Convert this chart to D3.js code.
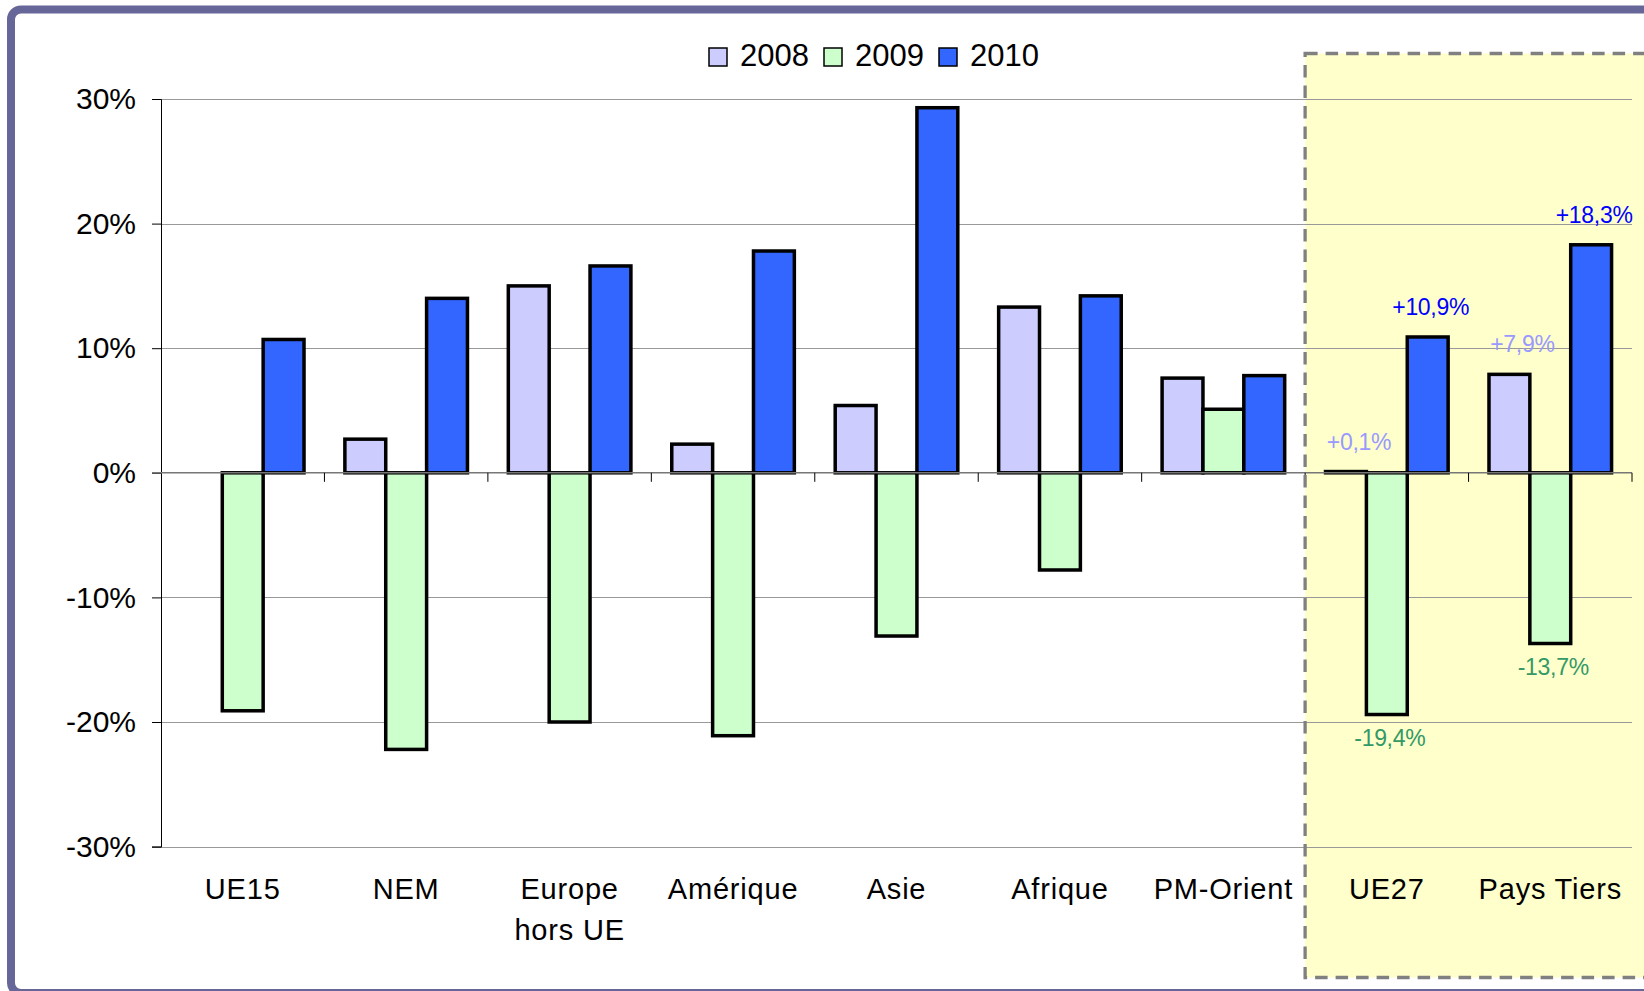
<!DOCTYPE html>
<html>
<head>
<meta charset="utf-8">
<script src="https://cdnjs.cloudflare.com/ajax/libs/d3/7.8.5/d3.min.js"></script>
<style>
  body { margin: 0; background: #fff; }
  svg { display: block; font-family: "Liberation Sans", Arial, sans-serif; }
</style>
</head>
<body>
<svg width="1644" height="991"></svg>
<script>
var categories = ["UE15", "NEM", "Europe|hors UE", "Amérique", "Asie", "Afrique", "PM-Orient", "UE27", "Pays Tiers"];
var series = ["2008", "2009", "2010"];

var values2008 = [null, 2.7, 15.0, 2.3, 5.4, 13.3, 7.6, 0.1, 7.9];
var values2009 = [-19.1, -22.2, -20.0, -21.1, -13.1, -7.8, 5.1, -19.4, -13.7];
var values2010 = [10.7, 14.0, 16.6, 17.8, 29.3, 14.2, 7.8, 10.9, 18.3];

var yTicks = [30, 20, 10, 0, -10, -20, -30];
var highlighted = ["UE27", "Pays Tiers"];

var fills = {"2008": "#ccccff", "2009": "#ccffcc", "2010": "#3366ff"};
var labelColors = {"2008": "#9999ff", "2009": "#339966", "2010": "#0000ff"};

var svg = d3.select("svg");

var x = d3.scaleBand()
    .domain(categories)
    .range([161, 1632]);

var bw = x.bandwidth();

var xs = d3.scaleBand()
    .domain(series)
    .range([bw / 8, bw * 7 / 8]);

var y = d3.scaleLinear()
    .domain([-30, 30])
    .range([846.6, 99]);

var table = [];
categories.forEach(function(c, i) {
  [values2008, values2009, values2010].forEach(function(vals, j) {
    if (vals[i] != null) table.push({cat: c, year: series[j], value: vals[i]});
  });
});

function fmt(v) {
  return (v > 0 ? "+" : "") + v.toFixed(1).replace(".", ",") + "%";
}

// outer frame
svg.append("rect")
    .attr("x", 11)
    .attr("y", 9.5)
    .attr("width", 1700)
    .attr("height", 983.5)
    .attr("rx", 10)
    .attr("fill", "#fff")
    .attr("stroke", "#666699")
    .attr("stroke-width", 8);

// highlighted zone
var zx = x(highlighted[0]);
svg.append("rect")
    .attr("x", zx)
    .attr("y", 53.5)
    .attr("width", 400)
    .attr("height", 924)
    .attr("fill", "#ffffcc");

// gridlines
svg.append("g")
    .attr("class", "grid")
    .selectAll("line")
  .data(yTicks.filter(function(d) { return d !== 0; }))
  .enter().append("line")
    .attr("x1", 161)
    .attr("x2", 1632)
    .attr("y1", function(d) { return Math.round(y(d)) + 0.5; })
    .attr("y2", function(d) { return Math.round(y(d)) + 0.5; })
    .attr("stroke", "#999")
    .attr("stroke-width", 1);

// y axis
var yAxis = svg.append("g")
    .attr("transform", "translate(161,0)")
    .call(d3.axisLeft(y)
      .tickValues(yTicks)
      .tickSize(9)
      .tickPadding(16)
      .tickFormat(function(d) { return d + "%"; }));

yAxis.select(".domain").attr("stroke", "#000");
yAxis.selectAll(".tick line").attr("stroke", "#000");
yAxis.selectAll("text")
    .attr("font-size", 30)
    .attr("font-family", "Liberation Sans, Arial, sans-serif")
    .attr("fill", "#000");

// bars
svg.append("g")
    .attr("class", "bars")
    .selectAll("rect")
  .data(table)
  .enter().append("rect")
    .attr("x", function(d) { return x(d.cat) + xs(d.year); })
    .attr("width", xs.bandwidth())
    .attr("y", function(d) { return y(Math.max(0, d.value)); })
    .attr("height", function(d) { return Math.abs(y(d.value) - y(0)); })
    .attr("fill", function(d) { return fills[d.year]; })
    .attr("stroke", "#000")
    .attr("stroke-width", 3.5);

// zero line and category ticks
svg.append("line")
    .attr("x1", 152)
    .attr("x2", 1632)
    .attr("y1", y(0))
    .attr("y2", y(0))
    .attr("stroke", "#777")
    .attr("stroke-width", 1.5);

svg.append("g")
    .selectAll("line")
  .data(categories)
  .enter().append("line")
    .attr("x1", function(d) { return x(d) + bw; })
    .attr("x2", function(d) { return x(d) + bw; })
    .attr("y1", y(0))
    .attr("y2", y(0) + 9)
    .attr("stroke", "#000")
    .attr("stroke-width", 1);

// category labels
var catLabels = svg.append("g")
    .selectAll("text")
  .data(categories)
  .enter().append("text")
    .attr("x", function(d) { return x(d) + bw / 2; })
    .attr("y", 899)
    .attr("text-anchor", "middle")
    .attr("font-size", 29)
    .attr("letter-spacing", 0.8)
    .attr("fill", "#000");

catLabels.selectAll("tspan")
  .data(function(d) { return d.split("|"); })
  .enter().append("tspan")
    .attr("x", function() { return d3.select(this.parentNode).attr("x"); })
    .attr("dy", function(d, i) { return i ? 41 : 0; })
    .text(function(d) { return d; });

// dashed border round the highlighted zone
svg.append("rect")
    .attr("x", zx)
    .attr("y", 53.5)
    .attr("width", 400)
    .attr("height", 924)
    .attr("fill", "none")
    .attr("stroke", "#808080")
    .attr("stroke-width", 3.3)
    .attr("stroke-dasharray", "12.5 8");

// value labels on highlighted categories
var dxs = {"2008": 13, "2009": 3, "2010": 3};
svg.append("g")
    .selectAll("text")
  .data(table.filter(function(d) { return highlighted.indexOf(d.cat) >= 0; }))
  .enter().append("text")
    .attr("x", function(d) { return x(d.cat) + xs(d.year) + xs.bandwidth() / 2 + dxs[d.year]; })
    .attr("y", function(d) { return d.value >= 0 ? y(d.value) - 22 : y(d.value) + 31; })
    .attr("text-anchor", "middle")
    .attr("font-size", 23)
    .attr("letter-spacing", -0.3)
    .attr("fill", function(d) { return labelColors[d.year]; })
    .text(function(d) { return fmt(d.value); });

// legend
var legend = svg.append("g")
    .attr("transform", "translate(709,48)")
    .selectAll("g")
  .data(series)
  .enter().append("g")
    .attr("transform", function(d, i) { return "translate(" + (i * 115) + ",0)"; });

legend.append("rect")
    .attr("width", 18)
    .attr("height", 18)
    .attr("fill", function(d) { return fills[d]; })
    .attr("stroke", "#000")
    .attr("stroke-width", 1.5);

legend.append("text")
    .attr("x", 31)
    .attr("y", 18)
    .attr("font-size", 31)
    .attr("fill", "#000")
    .text(function(d) { return d; });
</script>
</body>
</html>
